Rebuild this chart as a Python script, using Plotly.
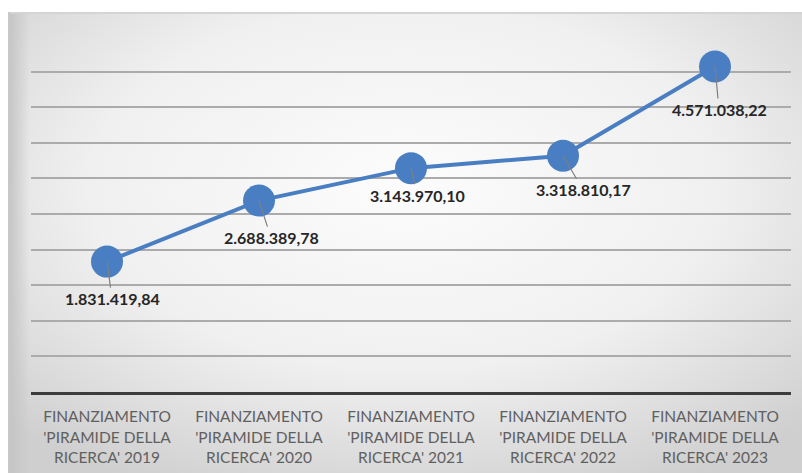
import base64
import plotly.graph_objects as go

# Annual funding of the "Piramide della Ricerca" programme (EUR)
years = ["2019", "2020", "2021", "2022", "2023"]
categories = [f"FINANZIAMENTO 'PIRAMIDE DELLA RICERCA' {y}" for y in years]
tick_labels = [f"FINANZIAMENTO<br>'PIRAMIDE DELLA<br>RICERCA' {y}" for y in years]
funding = [1831419.84, 2688389.78, 3143970.10, 3318810.17, 4571038.22]
value_labels = ["1.831.419,84", "2.688.389,78", "3.143.970,10", "3.318.810,17", "4.571.038,22"]

# pixel offsets of each data label from its point
label_dx = [5, 12, 6, 20, 4]
label_dy = [37, 37, 27, 34, 43]

W, H = 802, 473
L, R, T, B = 31, 11, 36, 81
pw, ph = W - L - R, H - T - B

BLUE = "#4a7ec2"

# soft grey panel behind the chart
svg = """<svg xmlns='http://www.w3.org/2000/svg' width='800' height='460' viewBox='0 0 800 460' preserveAspectRatio='none'>
<defs>
<radialGradient id='g' cx='50%' cy='38%' r='72%'>
<stop offset='0' stop-color='#fcfcfc'/>
<stop offset='0.55' stop-color='#f0f0f0'/>
<stop offset='1' stop-color='#cfcfcf'/>
</radialGradient>
<linearGradient id='lft' x1='0' x2='1' y1='0' y2='0'>
<stop offset='0' stop-color='#c4c4c4' stop-opacity='1'/>
<stop offset='1' stop-color='#c4c4c4' stop-opacity='0'/>
</linearGradient>
</defs>
<rect width='800' height='460' fill='url(#g)'/>
<rect width='22' height='460' fill='url(#lft)'/>
<rect width='800' height='2' fill='#d4d4d4'/>
<rect width='2' height='460' fill='#c8c8c8'/>
</svg>"""
src = "data:image/svg+xml;base64," + base64.b64encode(svg.encode()).decode()

panel_x0, panel_y0 = 8, 12
fig = go.Figure()

fig.add_trace(go.Scatter(
    x=categories, y=funding, mode="lines+markers",
    line=dict(color=BLUE, width=4),
    marker=dict(size=32, color=BLUE, line=dict(width=0)),
    hoverinfo="skip", showlegend=False,
))

for c, v, txt, dx, dy in zip(categories, funding, value_labels, label_dx, label_dy):
    fig.add_annotation(
        x=c, y=v, text=f"<b>{txt}</b>",
        showarrow=True, arrowhead=0, arrowwidth=1.2, arrowcolor="#7f7f7f",
        standoff=0, ax=dx, ay=dy, axref="pixel", ayref="pixel",
        font=dict(family="Lato", size=16, color="#262626"),
    )

fig.add_layout_image(
    source=src, xref="paper", yref="paper",
    x=(panel_x0 - L) / pw, y=1 + (T - panel_y0) / ph,
    sizex=(W - panel_x0) / pw, sizey=(H - panel_y0) / ph,
    xanchor="left", yanchor="top", sizing="stretch", layer="below",
)

fig.update_layout(
    width=W, height=H,
    margin=dict(l=L, r=R, t=T, b=B, pad=0, autoexpand=False),
    paper_bgcolor="white", plot_bgcolor="rgba(0,0,0,0)",
    xaxis=dict(
        type="category", tickvals=categories, ticktext=tick_labels,
        range=[-0.5, len(categories) - 0.5], automargin=False,
        showgrid=False, showline=True, linecolor="#3c3c3c", linewidth=2.5,
        ticks="outside", ticklen=9, tickcolor="rgba(0,0,0,0)",
        tickfont=dict(family="Lato", size=15.5, color="#606060"),
        fixedrange=True,
    ),
    yaxis=dict(
        range=[0, 5000000], dtick=500000, showticklabels=False,
        showgrid=True, gridcolor="#ababab", gridwidth=1.5, automargin=False,
        zeroline=False, showline=False, fixedrange=True,
    ),
)

fig.write_html("out.html")
